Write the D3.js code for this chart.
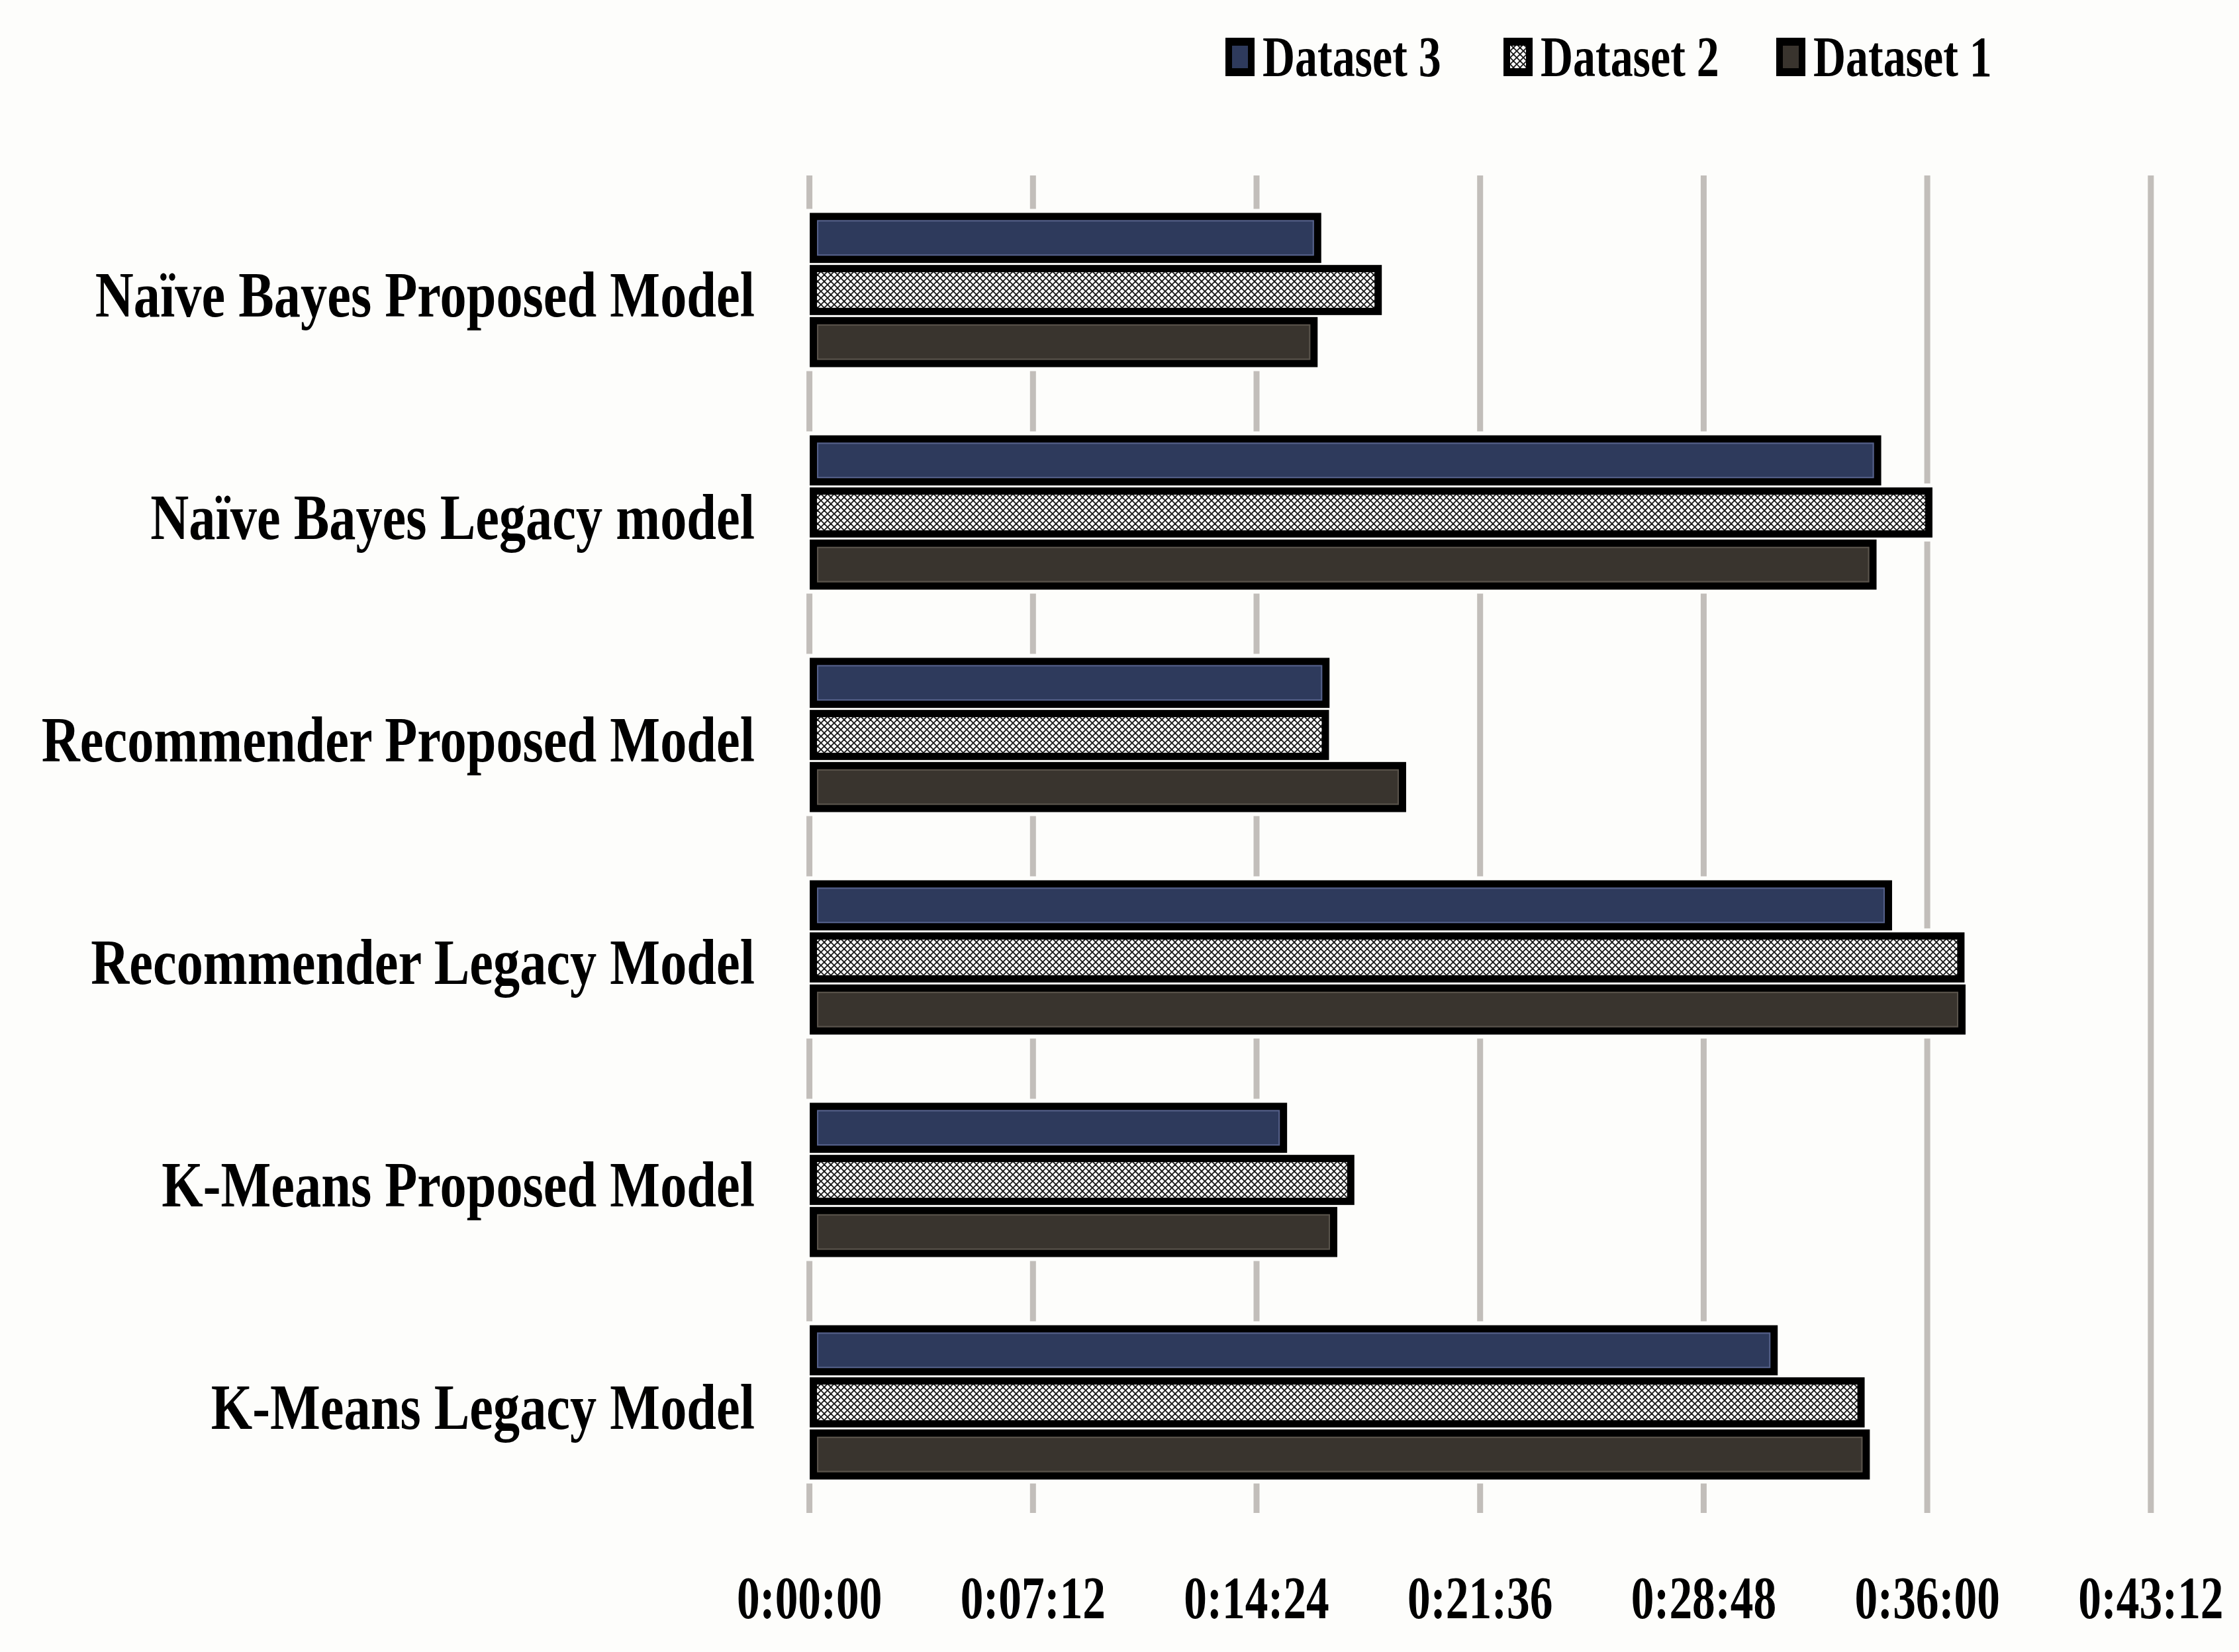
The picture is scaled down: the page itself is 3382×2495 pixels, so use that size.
<!DOCTYPE html>
<html>
<head>
<meta charset="utf-8">
<script src="https://cdn.jsdelivr.net/npm/d3@7"></script>
<style>
  html, body { margin: 0; padding: 0; background: #fdfdfb; }
  svg { display: block; }
  text { font-family: "Liberation Serif", "Times New Roman", serif; font-weight: bold; fill: #000; }
</style>
</head>
<body>
<svg id="chart" width="3382" height="2495"></svg>
<script>
// ---- data ----
const categories = [
  "Naïve Bayes Proposed Model",
  "Naïve Bayes Legacy model",
  "Recommender Proposed Model",
  "Recommender Legacy Model",
  "K-Means Proposed Model",
  "K-Means Legacy Model"
];
const seriesNames = ["Dataset 3", "Dataset 2", "Dataset 1"];
const dataset3 = ["0:16:22", "0:34:24", "0:16:38", "0:34:45", "0:15:16", "0:31:04"];
const dataset2 = ["0:18:19", "0:36:03", "0:16:37", "0:37:05", "0:17:26", "0:33:52"];
const dataset1 = ["0:16:15", "0:34:15", "0:19:06", "0:37:07", "0:16:53", "0:34:02"];
const tickLabels = ["0:00:00", "0:07:12", "0:14:24", "0:21:36", "0:28:48", "0:36:00", "0:43:12"];

// ---- helpers ----
const toSec = s => { const p = s.split(":").map(Number); return p[0]*3600 + p[1]*60 + p[2]; };
const series = [dataset3, dataset2, dataset1];
const rows = categories.map((c, i) => ({
  cat: c,
  vals: seriesNames.map((n, k) => ({ name: n, k, v: toSec(series[k][i]) }))
}));
const tickVals = tickLabels.map(toSec);

const svg = d3.select("#chart");
const defs = svg.append("defs");
const pat = defs.append("pattern").attr("id", "hatch").attr("patternUnits", "userSpaceOnUse")
  .attr("width", 10).attr("height", 10);
pat.append("rect").attr("width", 10).attr("height", 10).attr("fill", "#fff");
pat.append("path").attr("d", "M0,0L10,10M10,0L0,10M-5,5L5,15M5,-5L15,5M-5,5L5,-5M5,15L15,5")
  .attr("stroke", "#1a1a1a").attr("stroke-width", 1.9).attr("fill", "none");

const fills = ["#2e3a5c", "url(#hatch)", "#39342e"];

// ---- scales ----
const x = d3.scaleLinear().domain([0, d3.max(tickVals)]).range([1222.6, 3248.8]);
const y = d3.scaleBand().domain(categories).range([270, 2286]).paddingInner(0).paddingOuter(0);
const groupH = 236;
const ySub = d3.scaleBand().domain(seriesNames).range([0, groupH]).paddingInner(0);
const stroke = 11;
const barH = ySub.bandwidth() - stroke - 3;

// ---- gridlines ----
svg.append("g").selectAll("line").data(tickVals).join("line")
  .attr("x1", d => x(d)).attr("x2", d => x(d))
  .attr("y1", 265).attr("y2", 2285)
  .attr("stroke", "#c2beba").attr("stroke-width", 9);

// ---- x axis labels ----
const xAxis = d3.axisBottom(x).tickValues(tickVals).tickFormat((d, i) => tickLabels[i]).tickSize(0);
const axG = svg.append("g").attr("transform", "translate(0,2380)").call(xAxis);
axG.select(".domain").remove();
axG.selectAll("text")
  .attr("y", 0).attr("dy", null)
  .attr("font-size", 90)
  .attr("font-family", "Liberation Serif")
  .attr("font-weight", "bold")
  .attr("fill", "#000")
  .attr("text-anchor", "middle")
  .attr("transform", "translate(0,64) scale(0.77,1)")
  .attr("x", 0);
axG.selectAll(".tick").attr("transform", d => `translate(${x(d)},0)`);

// ---- bars ----
const groups = svg.append("g").selectAll("g").data(rows).join("g")
  .attr("transform", d => `translate(0,${y(d.cat) + y.bandwidth()/2 - groupH/2})`);

// white halo
groups.selectAll("rect.halo").data(d => d.vals).join("rect").attr("class", "halo")
  .attr("x", x(0) + 6 - stroke/2 - 6)
  .attr("y", d => ySub(d.name) + (ySub.bandwidth() - barH)/2 - stroke/2 - 6)
  .attr("width", d => x(d.v) - x(0) - 6 + stroke + 12)
  .attr("height", barH + stroke + 12)
  .attr("fill", "#fdfdfb");

groups.selectAll("rect.bar").data(d => d.vals).join("rect").attr("class", "bar")
  .attr("x", x(0) + 6)
  .attr("y", d => ySub(d.name) + (ySub.bandwidth() - barH)/2)
  .attr("width", d => x(d.v) - x(0) - 6)
  .attr("height", barH)
  .attr("fill", d => fills[d.k])
  .attr("stroke", "#000").attr("stroke-width", stroke);

// inner light edge for solid bars
groups.selectAll("rect.edge").data(d => d.vals.filter(v => v.k !== 1)).join("rect").attr("class", "edge")
  .attr("x", x(0) + 6 + stroke/2 + 1)
  .attr("y", d => ySub(d.name) + (ySub.bandwidth() - barH)/2 + stroke/2 + 1)
  .attr("width", d => Math.max(0, x(d.v) - x(0) - 6 - stroke - 2))
  .attr("height", barH - stroke - 2)
  .attr("fill", "none")
  .attr("stroke", d => d.k === 0 ? "#56618a" : "#5a544c").attr("stroke-width", 2);

// ---- category labels ----
svg.append("g").selectAll("text").data(categories).join("text")
  .attr("transform", d => `translate(1140,${y(d) + y.bandwidth()/2 + 40}) scale(0.82,1)`)
  .attr("text-anchor", "end")
  .attr("font-size", 98)
  .text(d => d);

// ---- legend ----
const legendX = [1851, 2271, 2683];
const lg = svg.append("g").selectAll("g").data(seriesNames).join("g")
  .attr("transform", (d, i) => `translate(${legendX[i]},57)`);
lg.append("rect").attr("x", 0).attr("y", 0).attr("width", 44).attr("height", 58).attr("fill", "#000");
lg.append("rect").attr("x", 10).attr("y", 12).attr("width", 24).attr("height", 34)
  .attr("fill", (d, i) => fills[i]);
lg.append("text")
  .attr("transform", "translate(56,58) scale(0.79,1)")
  .attr("font-size", 86)
  .text(d => d);
</script>
</body>
</html>
